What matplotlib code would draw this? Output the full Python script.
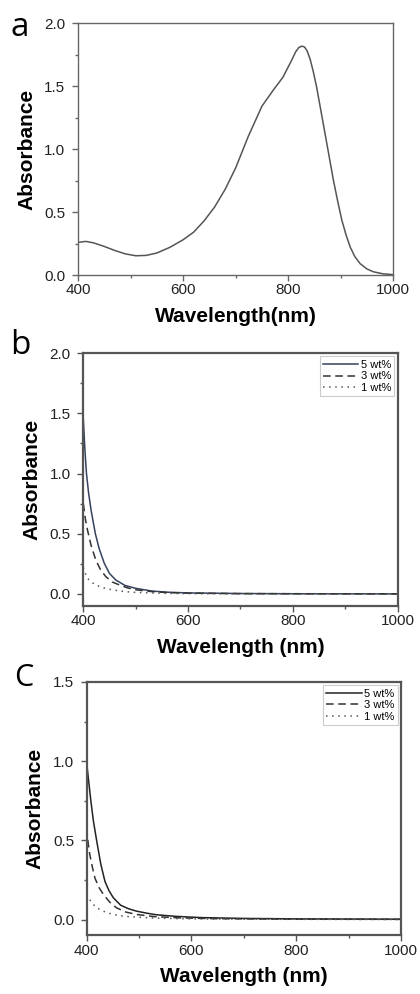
import matplotlib
matplotlib.use("Agg")
import matplotlib.pyplot as plt
from matplotlib.ticker import MultipleLocator

plt.rcParams['font.family'] = ['Liberation Sans', 'DejaVu Sans']

# panel a: single absorption spectrum
wl_a = [400, 415, 430, 450, 470, 490, 510, 530, 550, 575, 600, 620, 640, 660, 680,
        700, 724, 750, 772, 790, 806, 814, 820, 826, 831, 836, 842, 848, 854, 862,
        870, 878, 886, 894, 902, 910, 918, 927, 937, 950, 962, 980, 1000]
abs_a = [0.259, 0.267, 0.255, 0.227, 0.195, 0.168, 0.153, 0.156, 0.175, 0.22, 0.28,
         0.34, 0.43, 0.54, 0.68, 0.85, 1.10, 1.34, 1.47, 1.57, 1.70, 1.77, 1.805,
         1.817, 1.81, 1.78, 1.71, 1.61, 1.494, 1.31, 1.125, 0.94, 0.754, 0.59,
         0.437, 0.32, 0.222, 0.145, 0.09, 0.048, 0.026, 0.01, 0.003]

# panel b
wl_b5 = [400, 403, 406, 410, 415, 423, 430, 440, 450, 462, 480, 500, 530, 560, 600, 700, 800, 1000]
abs_b5 = [1.45, 1.2, 1.0, 0.84, 0.69, 0.5, 0.38, 0.255, 0.17, 0.116, 0.07, 0.047, 0.025,
          0.015, 0.009, 0.004, 0.002, 0.001]
wl_b3 = [400, 404, 408, 415, 424, 433, 443, 455, 469, 485, 500, 530, 560, 600, 700, 1000]
abs_b3 = [0.75, 0.62, 0.53, 0.40, 0.28, 0.20, 0.144, 0.10, 0.075, 0.05, 0.035, 0.02,
          0.012, 0.007, 0.003, 0.001]
wl_b1 = [400, 404, 408, 415, 424, 435, 450, 465, 481, 500, 550, 600, 700, 1000]
abs_b1 = [0.22, 0.17, 0.13, 0.10, 0.075, 0.055, 0.039, 0.028, 0.019, 0.013, 0.006,
          0.003, 0.001, 0.0]

# panel c
wl_c5 = [400, 404, 408, 413, 419, 427, 435, 443, 451, 465, 480, 495, 515, 533, 570,
         620, 700, 800, 1000]
abs_c5 = [0.99, 0.87, 0.75, 0.62, 0.5, 0.35, 0.24, 0.18, 0.137, 0.09, 0.068, 0.053,
          0.04, 0.03, 0.02, 0.012, 0.007, 0.004, 0.002]
wl_c3 = [400, 403, 406, 411, 416, 424, 432, 444, 457, 475, 495, 530, 580, 650, 800, 1000]
abs_c3 = [0.58, 0.48, 0.41, 0.33, 0.26, 0.2, 0.158, 0.11, 0.074, 0.047, 0.032, 0.018,
          0.01, 0.005, 0.002, 0.001]
wl_c1 = [400, 405, 410, 417, 425, 437, 451, 470, 495, 530, 600, 700, 1000]
abs_c1 = [0.158, 0.13, 0.105, 0.08, 0.063, 0.045, 0.032, 0.021, 0.015, 0.009, 0.004,
          0.002, 0.0]

labels = ['5 wt%', '3 wt%', '1 wt%']


def style_axis(ax, ymin, ymax, spine_lw, spine_col):
    ax.set_xlim(400, 1000)
    ax.set_ylim(ymin, ymax)
    ax.xaxis.set_major_locator(MultipleLocator(200))
    ax.xaxis.set_minor_locator(MultipleLocator(100))
    ax.yaxis.set_major_locator(MultipleLocator(0.5))
    ax.yaxis.set_minor_locator(MultipleLocator(0.25))
    ax.yaxis.set_major_formatter(plt.FormatStrFormatter('%.1f'))
    ax.tick_params(which='major', direction='out', length=4, width=1, color=spine_col,
                   labelsize=11, labelcolor='#222222')
    ax.tick_params(axis='x', which='major', pad=2)
    ax.tick_params(axis='y', which='major', pad=5)
    ax.tick_params(which='minor', direction='out', length=2, width=1, color=spine_col)
    for s in ax.spines.values():
        s.set_linewidth(spine_lw)
        s.set_color(spine_col)
    ax.set_ylabel('Absorbance', fontsize=15, fontweight='bold', labelpad=6)


fig = plt.figure(figsize=(4.2, 9.94), dpi=100)

ax_a = fig.add_axes([0.1857, 0.7233, 0.7507, 0.2535])
ax_a.plot(wl_a, abs_a, color='#555555', lw=1.1)
style_axis(ax_a, 0, 2.0, 1.0, '#666666')
ax_a.set_xlabel('Wavelength(nm)', fontsize=15, fontweight='bold', labelpad=7)
fig.text(0.024, 0.972, 'a', fontsize=24, family='Open Sans', va='center')

ax_b = fig.add_axes([0.1984, 0.3903, 0.7484, 0.2545])
ax_b.plot(wl_b5, abs_b5, color='#34425e', lw=1.1, label=labels[0])
ax_b.plot(wl_b3, abs_b3, color='#333333', lw=1.1, ls=(0, (5, 3)), label=labels[1])
ax_b.plot(wl_b1, abs_b1, color='#555555', lw=1.1, ls=(0, (1, 3)), label=labels[2])
style_axis(ax_b, -0.1, 2.0, 1.6, '#555555')
ax_b.set_xlabel('Wavelength (nm)', fontsize=15, fontweight='bold', labelpad=7)
fig.text(0.024, 0.652, 'b', fontsize=24, family='Open Sans', va='center')

ax_c = fig.add_axes([0.2063, 0.0590, 0.7484, 0.2549])
ax_c.plot(wl_c5, abs_c5, color='#222222', lw=1.1, label=labels[0])
ax_c.plot(wl_c3, abs_c3, color='#333333', lw=1.1, ls=(0, (5, 3)), label=labels[1])
ax_c.plot(wl_c1, abs_c1, color='#555555', lw=1.1, ls=(0, (1, 3)), label=labels[2])
style_axis(ax_c, -0.1, 1.5, 1.6, '#555555')
ax_c.set_xlabel('Wavelength (nm)', fontsize=15, fontweight='bold', labelpad=7)
fig.text(0.034, 0.318, 'C', fontsize=22, family='Open Sans', va='center')

for ax in (ax_b, ax_c):
    leg = ax.legend(loc='upper right', fontsize=8, handlelength=3.2, handletextpad=0.2,
                    labelspacing=0.15, borderpad=0.3, borderaxespad=0.3,
                    fancybox=False, framealpha=1)
    leg.get_frame().set_edgecolor('#cccccc')
    leg.get_frame().set_linewidth(0.8)

fig.savefig('out.png', dpi=100)
